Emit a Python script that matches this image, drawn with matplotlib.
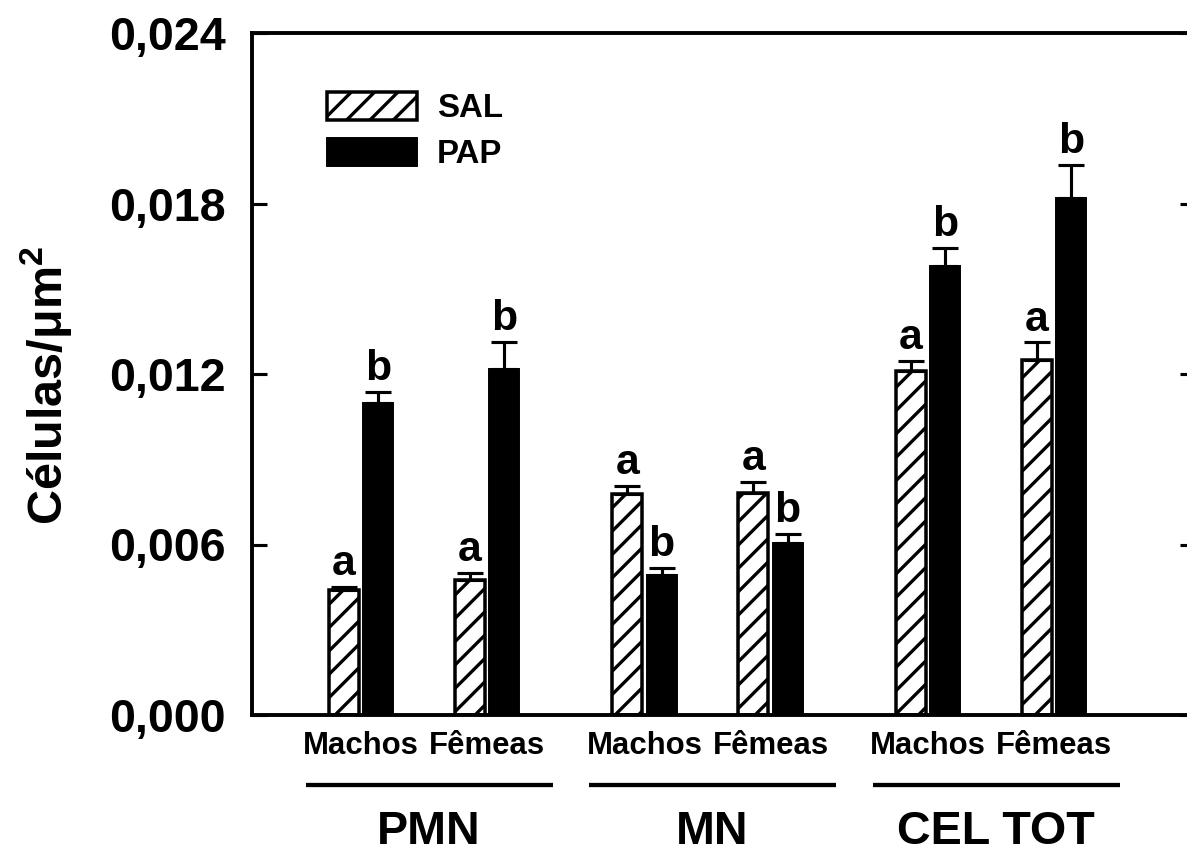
import numpy as np
import matplotlib
matplotlib.use('Agg')
import matplotlib.pyplot as plt
from matplotlib.patches import Patch

plt.rcParams['font.family'] = ['Liberation Sans', 'DejaVu Sans']
plt.rcParams['font.weight'] = 'bold'
plt.rcParams['mathtext.fontset'] = 'custom'
plt.rcParams['mathtext.rm'] = 'Liberation Sans:bold'
plt.rcParams['mathtext.bf'] = 'Liberation Sans:bold'
plt.rcParams['hatch.linewidth'] = 1.7

# cell density per group (mean and upper SEM)
groups = ['PMN', 'MN', 'CEL TOT']
sexes = ['Machos', 'Fêmeas']
sal_mean = [0.0044, 0.00475, 0.00778, 0.00781, 0.0121, 0.0125]
sal_err = [0.0001, 0.00025, 0.00028, 0.00039, 0.00036, 0.00062]
pap_mean = [0.01098, 0.01218, 0.00493, 0.00605, 0.0158, 0.0182]
pap_err = [0.00039, 0.00095, 0.00025, 0.00032, 0.00063, 0.00115]
sal_letters = ['a', 'a', 'a', 'a', 'a', 'a']
pap_letters = ['b', 'b', 'b', 'b', 'b', 'b']
yticks = [0.0, 0.006, 0.012, 0.018, 0.024]
ytick_labels = ['0,000', '0,006', '0,012', '0,018', '0,024']

DPI = 140
fig = plt.figure(figsize=(1187 / DPI, 849 / DPI), dpi=DPI)
ax = fig.add_axes([252 / 1187, 1 - 715 / 849, 943 / 1187, 682 / 849])

# pair centres: two sexes per cell type, wider gap between cell types
centers = np.array([g * 2.25 + s for g in range(len(groups)) for s in range(len(sexes))])
w = 0.238
off = 0.135
zeros = np.zeros(len(centers))

ax.bar(centers - off, sal_mean, w, color='white', edgecolor='black',
       linewidth=1.8, hatch='//', label='SAL', zorder=2)
ax.bar(centers + off, pap_mean, w, color='black', edgecolor='black',
       linewidth=1.0, label='PAP', zorder=2)
ax.errorbar(centers - off, sal_mean, yerr=[zeros, sal_err], fmt='none',
            ecolor='black', elinewidth=1.6, capsize=6.5, capthick=1.6, zorder=3)
ax.errorbar(centers + off, pap_mean, yerr=[zeros, pap_err], fmt='none',
            ecolor='black', elinewidth=1.6, capsize=6.5, capthick=1.6, zorder=3)

# significance letters above the error caps
for xs, m, e, lab in [(centers - off, sal_mean, sal_err, sal_letters),
                      (centers + off, pap_mean, pap_err, pap_letters)]:
    for xi, mi, ei, li in zip(xs, m, e, lab):
        ax.annotate(li, (xi, mi + ei), xytext=(0, 6), textcoords='offset points',
                    ha='center', va='baseline', fontsize=22, fontweight='bold')

ax.set_xlim(-0.865, 6.619)
ax.set_ylim(0, 0.024)
ax.set_yticks(yticks)
ax.set_yticklabels(ytick_labels, fontsize=24, fontweight='bold')
ax.set_xticks(centers)
ax.set_xticklabels(sexes * len(groups), fontsize=16, fontweight='bold')

ax.tick_params(axis='y', direction='in', length=7.7, width=1.6, pad=13.5,
               left=True, right=True)
ax.tick_params(axis='x', length=0, pad=8)
for side in ['left', 'top', 'bottom', 'right']:
    ax.spines[side].set_linewidth(2.0)

# cell-type brackets under the sex labels
trans = ax.get_xaxis_transform()
for g, name in enumerate(groups):
    mid = g * 2.25 + 0.5 + 0.04
    ax.plot([mid - 0.98, mid + 0.98], [-0.103, -0.103], color='black', lw=2.2,
            transform=trans, clip_on=False, solid_capstyle='butt')
    ax.text(mid, -0.189, name, transform=trans, ha='center', va='baseline',
            fontsize=24, fontweight='bold')

fig.text(47 / 1187, 1 - 385 / 849, 'Células/μm$^{2}$', rotation=90,
         ha='center', va='center', fontsize=25, fontweight='bold')

handles = [Patch(facecolor='white', edgecolor='black', hatch='//', linewidth=1.8),
           Patch(facecolor='black', edgecolor='black')]
ax.legend(handles, ['SAL', 'PAP'], loc='upper left', bbox_to_anchor=(0.08, 0.913),
          frameon=False, fontsize=17, handlelength=2.7, handleheight=0.9,
          handletextpad=0.62, labelspacing=0.42, borderpad=0, borderaxespad=0)

fig.savefig('out.png', dpi=DPI)
